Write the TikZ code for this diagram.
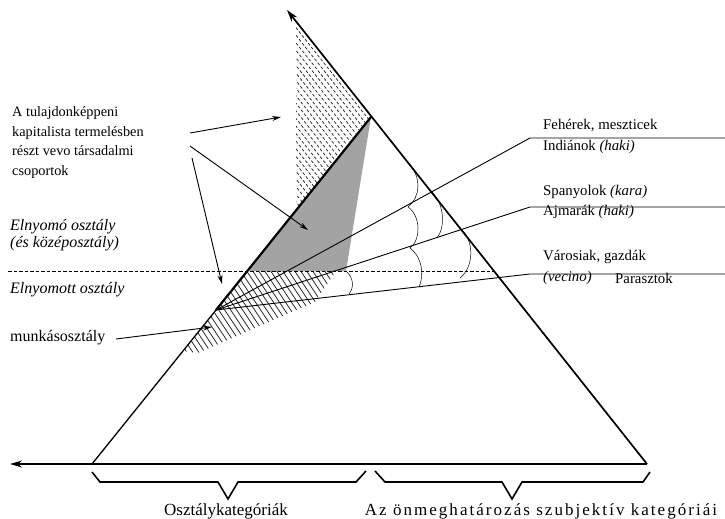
\documentclass[tikz,border=0pt]{standalone}
\usepackage{fontspec}
\setmainfont{Liberation Serif}
\usetikzlibrary{arrows.meta}
\tikzset{
  edge/.style={line width=1.7pt},
  fan/.style={line width=0.9pt},
  ptr/.style={line width=0.9pt,-{Stealth[length=9pt,width=5pt]}},
  axis/.style={line width=1.7pt,-{Stealth[length=12pt,width=7pt]}},
  brace/.style={line width=1.6pt,line join=miter},
  hatch/.style={line width=0.75pt,black!85},
  anglemark/.style={line width=0.5pt},
  lbl/.style={inner sep=0pt,anchor=west,font=\fontsize{16}{19.5}\selectfont},
  rlbl/.style={inner sep=0pt,anchor=west,font=\fontsize{14.8}{17}\selectfont},
  clbl/.style={inner sep=0pt,font=\fontsize{17}{19.5}\selectfont},
}
\begin{document}
\begin{tikzpicture}[x=1pt,y=-1pt]
\useasboundingbox (0,0) rectangle (725,519);
\coordinate (bl) at (92,464);
\coordinate (br) at (647,464);
\coordinate (apex) at (371,117);
\coordinate (top) at (287,10);
\coordinate (far) at (10,464);
\coordinate (o) at (216,310);
\coordinate (ga) at (247,271);
\coordinate (gb) at (346,271);
\coordinate (k1) at (530,138);
\coordinate (k2) at (530,207);
\coordinate (k3) at (530,274);
\coordinate (e1) at (725,138);
\coordinate (e2) at (725,207);
\coordinate (e3) at (725,274);
% shading and hatching
\fill[black!36] (apex) -- (gb) -- (ga) -- cycle;
\begin{scope}
\clip (296,21.3) -- (296,210.3) -- (apex) -- cycle;
\foreach \x in {130,136,...,380} \draw[hatch,dash pattern=on 3pt off 2pt] (\x,0) -- ++(237.9,300);
\end{scope}
\begin{scope}
\clip (ga) -- (336,271) -- (315,302) -- (255,328) -- (198,353) -- (183,351) -- cycle;
\foreach \x in {-60,-54,...,160} \draw[hatch] (\x,0) -- ++(300,450);
\end{scope}
% class line
\draw[line width=0.8pt,dash pattern=on 3.5pt off 2pt] (8,271) -- (494,271);
% triangle
\draw[axis] (bl) -- (far);
\draw[edge] (bl) -- (br);
\draw[axis] (br) -- (top);
\draw[line width=1.3pt] (bl) -- (o);
\draw[line width=2.2pt] (o) -- (apex);
\draw[fan] (o) -- (k1) -- (e1);
\draw[fan] (o) -- (k2) -- (e2);
\draw[fan] (o) -- (k3) -- (e3);
% angle marks
\draw[anglemark] (410,165) .. controls (421,178) and (421,196) .. (408,207);
\draw[anglemark] (408,207) .. controls (421,216) and (421,240) .. (410,248);
\draw[anglemark] (410,248) .. controls (423,258) and (424,276) .. (419,287);
\draw[anglemark] (432,192) .. controls (445,205) and (445,228) .. (437,238);
\draw[anglemark] (462,230) .. controls (475,243) and (473,268) .. (460,278);
\draw[anglemark] (346,271) .. controls (354,278) and (354,288) .. (349,294);
% left labels
\node[lbl,align=left,font=\fontsize{14.3}{19.5}\selectfont] (grp) at (12,142.5) {A tulajdonképpeni\\kapitalista termelésben\\részt vevo társadalmi\\csoportok};
\node[lbl,align=left,font=\fontsize{16}{16.5}\selectfont\itshape] (upper) at (10,235) {Elnyomó osztály\\(és középosztály)};
\node[lbl,font=\fontsize{16}{19.5}\selectfont\itshape] (lower) at (10,290) {Elnyomott osztály};
\node[lbl] (work) at (10,338) {munkásosztály};
\coordinate (p1) at (190,133);
\coordinate (p2) at (190,146);
\coordinate (p3) at (192,158);
\coordinate (p4) at (116,339);
\coordinate (t1) at (281,117);
\coordinate (t2) at (308,230);
\coordinate (t3) at (222,284);
\coordinate (t4) at (212,327);
\draw[ptr] (p1) -- (t1);
\draw[ptr] (p2) -- (t2);
\draw[ptr] (p3) -- (t3);
\draw[ptr] (p4) -- (t4);
% right labels
\node[rlbl] (w1) at (543,125) {Fehérek, meszticek};
\node[rlbl] (w2) at (543,147) {Indiánok \textit{(haki)}};
\node[rlbl] (s1) at (543,192) {Spanyolok \textit{(kara)}};
\node[rlbl] (s2) at (543,212) {Ajmarák \textit{(haki)}};
\node[rlbl] (v1) at (543,257) {Városiak, gazdák};
\node[rlbl] (v2) at (543,278) {\textit{(vecino)}};
\node[rlbl] (v3) at (615,278) {Parasztok};
% braces
\draw[brace] (92,472) -- (100,482) -- (218,482) -- (228,499) -- (238,482) -- (356,482) -- (366,471);
\draw[brace] (375,471) -- (385,482) -- (502,482) -- (512,499) -- (522,482) -- (643,482) -- (650,472);
\node[clbl] (cat1) at (226,511) {Osztálykategóriák};
\node[clbl] (cat2) at (541,511) {\addfontfeatures{LetterSpace=12}Az önmeghatározás szubjektív kategóriái};
\end{tikzpicture}
\end{document}
